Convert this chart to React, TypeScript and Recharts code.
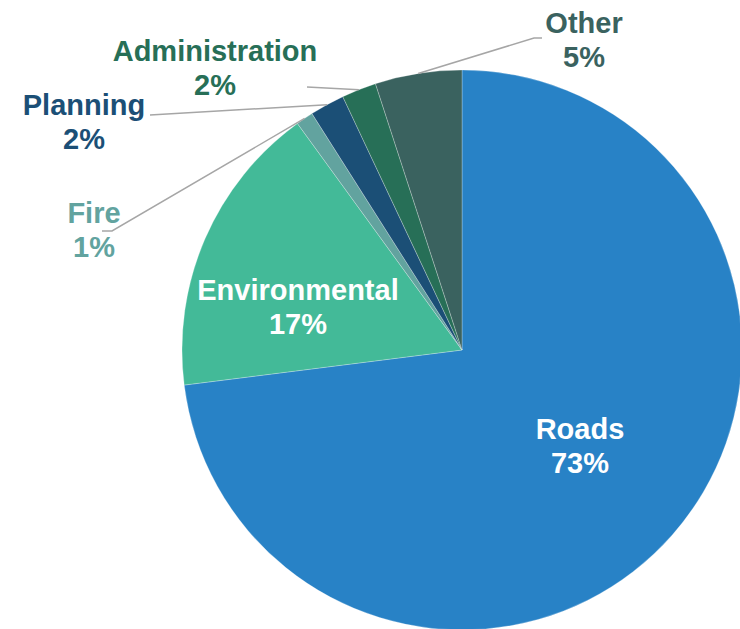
import React from "react"
import { PieChart, Pie, Cell } from "recharts"

const categories = ["Roads", "Environmental", "Fire", "Planning", "Administration", "Other"]
const shares = [73, 17, 1, 2, 2, 5]
const sliceColors = ["#2882C6", "#43BA98", "#62A39F", "#1B4F76", "#276F57", "#3A625F"]
const textColors = ["#FFFFFF", "#FFFFFF", "#62A39F", "#1B4F76", "#276F57", "#3A625F"]

const data = categories.map((name, i) => ({ name, value: shares[i] }))

// label placement relative to pie centre: text centre x, first baseline y,
// optional elbow for the leader line (elbow point + short horizontal tail)
type LabelSpot = { x: number; y: number; elbow?: [number, number]; tail?: number }
const labelSpots: Record<string, LabelSpot> = {
 Roads: { x: 118, y: 89 },
 Environmental: { x: -164, y: -50 },
 Fire: { x: -368, y: -127, elbow: [-350, -119], tail: -10 },
 Planning: { x: -378, y: -235, elbow: [-312, -235] },
 Administration: { x: -247, y: -289, elbow: [-155, -263] },
 Other: { x: 122, y: -317, elbow: [72, -312], tail: 8 },
}

const FONT = "'Liberation Sans', Arial, Helvetica, sans-serif"
const RAD = Math.PI / 180

const renderLabel = (props: any) => {
 const { cx, cy, midAngle, outerRadius, name, percent, index } = props
 const spot = labelSpots[name]
 if (!spot) return null
 const tx = cx + spot.x
 const ty = cy + spot.y
 let line = null
 if (spot.elbow) {
  const sx = cx + outerRadius * Math.cos(-midAngle * RAD)
  const sy = cy + outerRadius * Math.sin(-midAngle * RAD)
  const ex = cx + spot.elbow[0]
  const ey = cy + spot.elbow[1]
  const pts = [`${sx},${sy}`, `${ex},${ey}`]
  if (spot.tail) pts.push(`${ex + spot.tail},${ey}`)
  line = <polyline points={pts.join(" ")} fill="none" stroke="#A6A6A6" strokeWidth={1.5} />
 }
 return (
  <g key={`lbl-${name}`}>
   {line}
   <text
    x={tx}
    y={ty}
    textAnchor="middle"
    fill={textColors[index]}
    fontFamily={FONT}
    fontWeight="bold"
    fontSize={29}>
    <tspan x={tx}>{name}</tspan>
    <tspan x={tx} dy={34}>{`${Math.round(percent * 100)}%`}</tspan>
   </text>
  </g>
 )
}

export default function App() {
 return (
  <div style={{ position: "absolute", left: 0, top: 0, width: 740, height: 629, background: "#fff" }}>
   <style>{`.recharts-pie-sectors { filter: drop-shadow(0px 0px 4px rgba(0,0,0,0.35)); }`}</style>
   <PieChart width={740} height={629} margin={{ top: 0, right: 0, bottom: 0, left: 0 }}>
    <Pie
     data={data}
     dataKey="value"
     nameKey="name"
     cx={462}
     cy={350}
     outerRadius={280}
     startAngle={90}
     endAngle={-270}
     stroke="rgba(255,255,255,0.35)"
     strokeWidth={0.75}
     label={renderLabel}
     labelLine={false}
     isAnimationActive={false}>
     {data.map((d, i) => (
      <Cell key={d.name} fill={sliceColors[i]} />
     ))}
    </Pie>
   </PieChart>
  </div>
 )
}
